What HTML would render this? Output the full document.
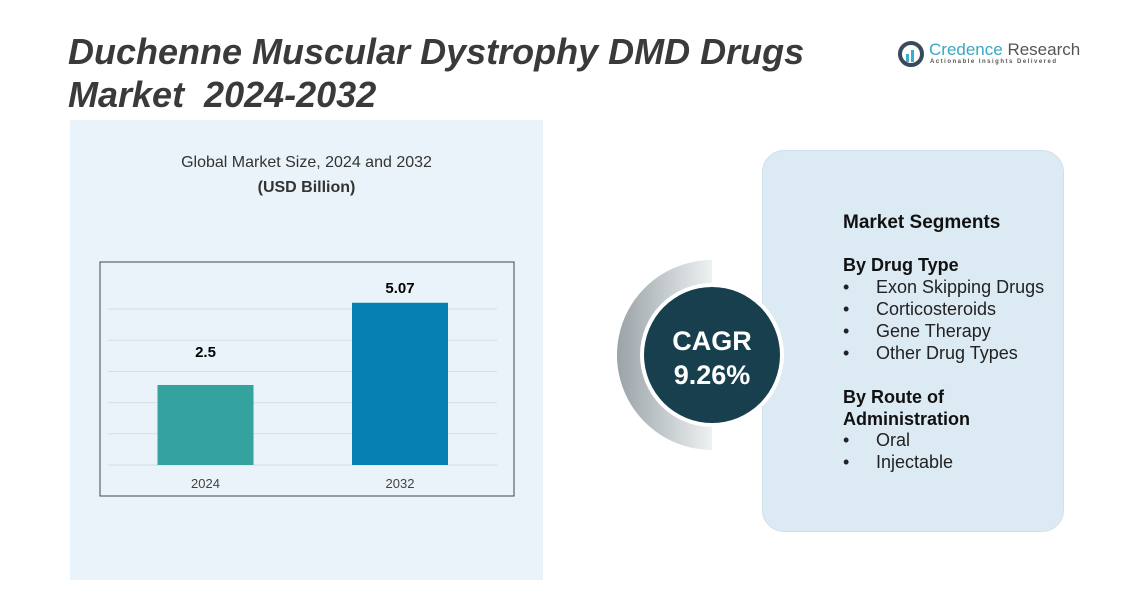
<!DOCTYPE html>
<html><head><meta charset="utf-8"><style>
body{margin:0;width:1132px;height:602px;background:#fff;position:relative;overflow:hidden;font-family:"Liberation Sans",sans-serif}
.abs{position:absolute}
h1{position:absolute;left:68px;top:30px;margin:0;font-size:36px;line-height:43px;font-style:italic;font-weight:bold;color:#3a3a3a}
.card{left:762px;top:150px;width:300px;height:380px;background:#dceaf3;border-radius:22px;border:1px solid #cfe0ec}
.seg{left:843px;color:#111;font-size:18px}
.b{font-weight:bold}
.li{position:absolute;left:843px;font-size:18px;color:#222}
.li span{position:absolute;left:33px;white-space:nowrap}
</style></head><body>
<div class="abs" style="left:70px;top:120px;width:473px;height:460px;background:#eaf3f9"></div>
<h1>Duchenne Muscular Dystrophy DMD Drugs<br>Market&nbsp; 2024-2032</h1>
<div class="abs" style="left:897px;top:40px;">
<svg width="28" height="28"><circle cx="14" cy="14" r="11" fill="none" stroke="#3a4a5a" stroke-width="4"/><rect x="9" y="14" width="3" height="8" fill="#3ab0c8"/><rect x="14" y="10" width="3" height="12" fill="#3ab0c8"/></svg>
<span class="abs" style="left:32px;top:0;font-size:17px;color:#3aa7c0;white-space:nowrap">Credence <span style="color:#555">Research</span></span>
<span class="abs" style="left:33px;top:19px;font-size:6px;letter-spacing:1.5px;color:#555;white-space:nowrap;font-weight:bold">Actionable Insights Delivered</span>
</div>
<div class="abs" style="left:70px;width:473px;top:150px;text-align:center;font-size:16px;color:#333;line-height:25px">Global Market Size, 2024 and 2032<br><b>(USD Billion)</b></div>
<svg class="abs" style="left:0;top:0" width="1132" height="602" id="chart">
<rect x="100" y="262" width="414" height="234" fill="none" stroke="#444" stroke-width="1"/>
</svg>
<div class="abs card"></div>
<svg class="abs" style="left:600px;top:240px" width="200" height="230">
<defs><linearGradient id="g" x1="0" x2="1"><stop offset="0" stop-color="#9aa3a8"/><stop offset="1" stop-color="#eef1f2"/></linearGradient></defs>
<path d="M112 20 A95 95 0 0 0 112 210 L112 185 A70 70 0 0 1 112 45 Z" fill="url(#g)"/>
<circle cx="112" cy="115" r="72" fill="#fff"/>
<circle cx="112" cy="115" r="68" fill="#173f4d"/>
<text x="112" y="110" text-anchor="middle" fill="#fff" font-size="27" font-weight="bold" font-family="Liberation Sans">CAGR</text>
<text x="112" y="144" text-anchor="middle" fill="#fff" font-size="27" font-weight="bold" font-family="Liberation Sans">9.26%</text>
</svg>
<div class="abs seg b" style="top:212px;font-size:19px">Market Segments</div>
<div class="abs seg b" style="top:255px;font-size:18px">By Drug Type</div>
<div class="li" style="top:277px">•<span>Exon Skipping Drugs</span></div>
<div class="li" style="top:299px">•<span>Corticosteroids</span></div>
<div class="li" style="top:321px">•<span>Gene Therapy</span></div>
<div class="li" style="top:343px">•<span>Other Drug Types</span></div>
<div class="abs seg b" style="top:386px;font-size:18px;line-height:22px">By Route of<br>Administration</div>
<div class="li" style="top:430px">•<span>Oral</span></div>
<div class="li" style="top:452px">•<span>Injectable</span></div>
<script>
const categories=["2024","2032"];
const values=[2.5,5.07];
const valueLabels=["2.5","5.07"];
const gridTicks=[0,1,2,3,4,5];
const svg=document.getElementById('chart');const NS='http://www.w3.org/2000/svg';
const base=465,ppu=32;
const y=v=>base-v*ppu;
const gy=t=>base-t*31.2;
const xc=i=>205.5+i*194.5;
const colors=["#34a3a0","#0680b2"];
gridTicks.forEach(t=>{const l=document.createElementNS(NS,'line');


l.setAttribute('x1',108);l.setAttribute('x2',497);l.setAttribute('y1',gy(t));l.setAttribute('y2',gy(t));l.setAttribute('stroke','#d8dde0');svg.appendChild(l);});
categories.forEach((c,i)=>{const r=document.createElementNS(NS,'rect');


r.setAttribute('x',xc(i)-48);r.setAttribute('width',96);r.setAttribute('y',y(values[i]));r.setAttribute('height',values[i]*ppu);r.setAttribute('fill',colors[i]);svg.appendChild(r);
const t=document.createElementNS(NS,'text');


t.setAttribute('x',xc(i));t.setAttribute('y',y(values[i])-(i==0?28:10));t.setAttribute('text-anchor','middle');t.setAttribute('font-size','15');t.setAttribute('font-weight','bold');t.setAttribute('font-family','Liberation Sans');t.textContent=valueLabels[i];svg.appendChild(t);
const a=document.createElementNS(NS,'text');


a.setAttribute('x',xc(i));a.setAttribute('y',488);a.setAttribute('text-anchor','middle');a.setAttribute('font-size','13');a.setAttribute('fill','#444');a.setAttribute('font-family','Liberation Sans');a.textContent=c;svg.appendChild(a);});
</script>
</body></html>
